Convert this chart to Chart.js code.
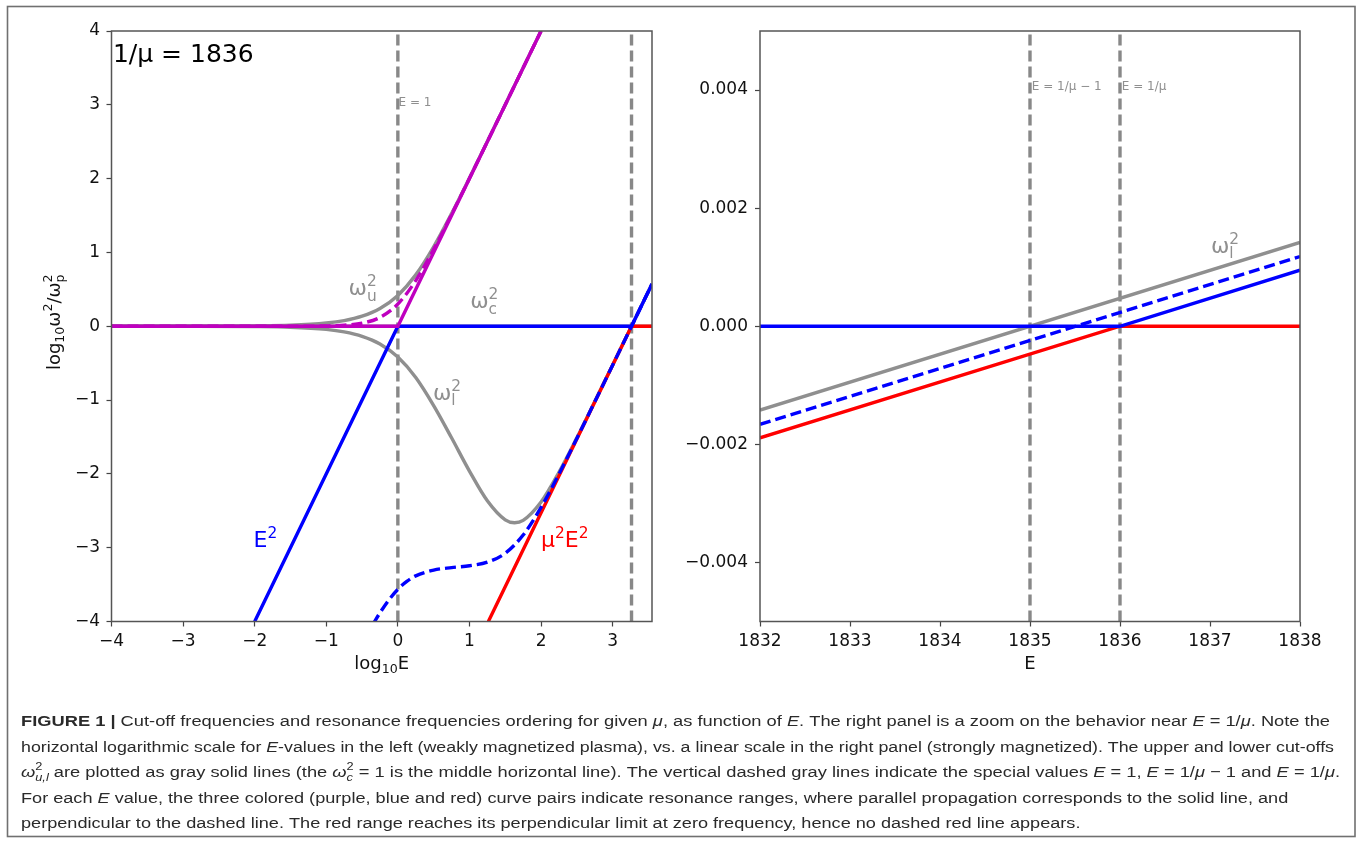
<!DOCTYPE html>
<html>
<head>
<meta charset="utf-8">
<script src="https://cdn.jsdelivr.net/npm/chart.js@4.4.1/dist/chart.umd.min.js"></script>
<style>
  html, body { margin: 0; padding: 0; background: #fff; }
  #page { position: relative; width: 1357px; height: 843px; overflow: hidden; }
  canvas { position: absolute; top: 0; }
  #bg { left: 0; }
  #left { left: 0; }
  #right { left: 680px; }
</style>
</head>
<body>
<div id="page">
  <canvas id="bg" width="1357" height="843" style="width:1357px;height:843px"></canvas>
  <canvas id="left" width="700" height="700" style="width:700px;height:700px"></canvas>
  <canvas id="right" width="677" height="700" style="width:677px;height:700px"></canvas>
</div>
<script>
const inverseMu = 1836;

// ---- left panel, x = log10 E, y = log10 w^2/wp^2 ----
const leftXTicks = [-4, -3, -2, -1, 0, 1, 2, 3];
const leftYTicks = [-4, -3, -2, -1, 0, 1, 2, 3, 4];
const specialLogE = [0, 3.264];          // E = 1 and E = 1/mu

// straight pieces (parallel resonances, middle cut-off)
const purpleSolidX = [-4, 0, 2];
const purpleSolidY = [0, 0, 4];
const blueSolidX = [-2, 0, 3.264, 3.55];
const blueSolidY = [-4, 0, 0, 0.572];
const redSolidX = [1.264, 3.264, 3.55];
const redSolidY = [-4, 0, 0];
const cutoffCX = [-4, 3.55];
const cutoffCY = [0, 0];

// upper cut-off w_u^2 (gray)
const upperCutX = [-4, -3, -2, -1.5, -1, -0.75, -0.5, -0.25, 0, 0.25, 0.5, 0.75, 1, 1.5, 2];
const upperCutY = [0.0003, 0.0007, 0.005, 0.014, 0.044, 0.077, 0.137, 0.241, 0.418, 0.696, 1.076, 1.526, 2.009, 3.001, 4.0];

// lower cut-off w_l^2 (gray)
const lowerCutX = [-4, -3, -2, -1.5, -1, -0.75, -0.5, -0.25, 0, 0.25, 0.5, 0.75, 1, 1.25, 1.5, 1.63, 1.75, 2, 2.25, 2.5, 2.75, 3, 3.264, 3.55];
const lowerCutY = [0.0002, -0.0002, -0.004, -0.013, -0.043, -0.077, -0.137, -0.241, -0.418, -0.695, -1.075, -1.511, -1.962, -2.365, -2.623, -2.662, -2.630, -2.381, -1.979, -1.512, -1.020, -0.526, 0.0005, 0.572];

// perpendicular (dashed) resonances
const purpleDashX = [-4, -3, -2, -1.5, -1, -0.75, -0.5, -0.25, 0, 0.25, 0.5, 0.75, 1, 1.5, 2];
const purpleDashY = [0.0002, 0.0002, 0.0003, 0.0007, 0.0046, 0.0138, 0.0416, 0.1195, 0.301, 0.619, 1.041, 1.514, 2.004, 3.0, 4.0];
const blueDashX = [-0.35, -0.25, -0.125, 0, 0.125, 0.25, 0.5, 0.75, 1, 1.25, 1.5, 1.75, 2, 2.25, 2.5, 2.75, 3, 3.264, 3.55];
const blueDashY = [-4.04, -3.883, -3.707, -3.564, -3.457, -3.382, -3.303, -3.270, -3.245, -3.196, -3.075, -2.829, -2.455, -2.003, -1.520, -1.025, -0.527, 0.0002, 0.572];

// ---- right panel, x = E (linear), zoom near E = 1/mu ----
const rightXTicks = [1832, 1833, 1834, 1835, 1836, 1837, 1838];
const rightYTicks = [-0.004, -0.002, 0, 0.002, 0.004];
const specialE = [1835, 1836];           // E = 1/mu - 1 and E = 1/mu
const zoomGrayX = [1832, 1838];
const zoomGrayY = [-0.00142, 0.00142];
const zoomBlueDashX = [1832, 1838];
const zoomBlueDashY = [-0.00166, 0.00118];
const zoomRedX = [1832, 1836, 1838];
const zoomRedY = [-0.00189, 0, 0];
const zoomBlueX = [1832, 1836, 1838];
const zoomBlueY = [0, 0, 0.00095];

const GRAY = '#8f8f8f', BLUE = '#0000ff', RED = '#ff0000', PURPLE = '#bf00bf';
const PLOT_FAMILY = "'DejaVu Sans', sans-serif";
const CAP_FAMILY = "'Liberation Sans Narrow', 'Liberation Sans', Arial, sans-serif";
const DASH = [11, 5];

Chart.defaults.font.family = PLOT_FAMILY;

function pts(xs, ys) { return xs.map((x, i) => ({ x: x, y: ys[i] })); }

function line(xs, ys, color, order, extra) {
  return Object.assign({
    data: pts(xs, ys), borderColor: color, borderWidth: 3.4,
    pointRadius: 0, fill: false, tension: 0, clip: 0, order: order
  }, extra || {});
}
const curve = { cubicInterpolationMode: 'monotone' };
const dashed = { borderDash: DASH };

function fontStr(size, it, bd, family) {
  return (it ? 'italic ' : '') + (bd ? 'bold ' : '') + size + 'px ' + family;
}

// draws text pieces with sub/superscripts from (0,0); returns width
function drawParts(ctx, parts, size, family, draw) {
  let x = 0;
  for (const p of parts) {
    ctx.font = fontStr(size, p.i, p.b, family);
    if (draw) ctx.fillText(p.t, x, 0);
    x += ctx.measureText(p.t).width;
    if (p.sup || p.sub) {
      const s = size * 0.7;
      let w = 0;
      if (p.sup) {
        ctx.font = fontStr(s, false, false, family);
        if (draw) ctx.fillText(p.sup, x, -size * 0.42);
        w = Math.max(w, ctx.measureText(p.sup).width);
      }
      if (p.sub) {
        ctx.font = fontStr(s, p.subI, false, family);
        if (draw) ctx.fillText(p.sub, x, size * 0.24);
        w = Math.max(w, ctx.measureText(p.sub).width);
      }
      x += w;
    }
  }
  return x;
}

function decor(notes, xTitle, yTitle) {
  return {
    id: 'decor',
    afterDatasetsDraw(chart) {
      const ctx = chart.ctx, ca = chart.chartArea;
      const sx = chart.scales.x, sy = chart.scales.y;
      ctx.save();
      ctx.strokeStyle = '#555';
      ctx.lineWidth = 1.5;
      ctx.strokeRect(ca.left, ca.top, ca.right - ca.left, ca.bottom - ca.top);
      ctx.textBaseline = 'alphabetic';
      ctx.textAlign = 'left';
      for (const n of notes) {
        ctx.fillStyle = n.color;
        ctx.save();
        ctx.translate(sx.getPixelForValue(n.x), sy.getPixelForValue(n.y));
        drawParts(ctx, n.parts, n.size, PLOT_FAMILY, true);
        ctx.restore();
      }
      ctx.fillStyle = '#111';
      if (xTitle) {
        const w = drawParts(ctx, xTitle, 18, PLOT_FAMILY, false);
        ctx.save();
        ctx.translate((ca.left + ca.right) / 2 - w / 2, ca.bottom + 47.5);
        drawParts(ctx, xTitle, 18, PLOT_FAMILY, true);
        ctx.restore();
      }
      if (yTitle) {
        const w = drawParts(ctx, yTitle, 18, PLOT_FAMILY, false);
        ctx.save();
        ctx.translate(ca.left - 51.5, (ca.top + ca.bottom) / 2 - 4);
        ctx.rotate(-Math.PI / 2);
        ctx.translate(-w / 2, 0);
        drawParts(ctx, yTitle, 18, PLOT_FAMILY, true);
        ctx.restore();
      }
      ctx.restore();
    }
  };
}

function axis(min, max, ticks, fmt, fitKey, fitVal, pad) {
  return {
    type: 'linear', min: min, max: max,
    afterBuildTicks: s => { s.ticks = ticks.map(v => ({ value: v })); },
    afterFit: s => { s[fitKey] = fitVal; },
    ticks: { callback: fmt, color: '#111', font: { size: 17 }, padding: pad, autoSkip: false, maxRotation: 0 },
    grid: { drawOnChartArea: false, drawTicks: true, tickLength: 5, tickColor: '#444', tickWidth: 1.2 },
    border: { display: false }
  };
}

const minus = v => String(v).replace('-', '\u2212');
const fixed3 = v => minus(Number(v).toFixed(3));

const leftNotes = [
  { parts: [{ t: '1/μ = ' + inverseMu }], x: -3.98, y: 3.58, size: 25, color: '#000' },
  { parts: [{ t: 'E = 1' }], x: 0.01, y: 2.99, size: 12, color: GRAY },
  { parts: [{ t: 'ω', sup: '2', sub: 'u' }], x: -0.69, y: 0.42, size: 22, color: GRAY },
  { parts: [{ t: 'ω', sup: '2', sub: 'c' }], x: 1.01, y: 0.244, size: 22, color: GRAY },
  { parts: [{ t: 'ω', sup: '2', sub: 'l' }], x: 0.49, y: -1.0, size: 22, color: GRAY },
  { parts: [{ t: 'E', sup: '2' }], x: -2.015, y: -2.99, size: 22, color: BLUE },
  { parts: [{ t: 'μ', sup: '2' }, { t: 'E', sup: '2' }], x: 2.0, y: -2.99, size: 22, color: RED }
];

const rightNotes = [
  { parts: [{ t: 'E = 1/μ − 1' }], x: 1835.02, y: 0.0040, size: 12, color: GRAY },
  { parts: [{ t: 'E = 1/μ' }], x: 1836.02, y: 0.0040, size: 12, color: GRAY },
  { parts: [{ t: 'ω', sup: '2', sub: 'l' }], x: 1837.01, y: 0.00124, size: 22, color: GRAY }
];

const baseOpts = {
  responsive: false, animation: false, devicePixelRatio: 1, events: [],
  plugins: { legend: { display: false }, tooltip: { enabled: false } }
};

new Chart(document.getElementById('left'), {
  type: 'line',
  data: {
    datasets: [
      line([specialLogE[0], specialLogE[0]], [-4, 4], '#888', 9, dashed),
      line([specialLogE[1], specialLogE[1]], [-4, 4], '#888', 9, dashed),
      line(cutoffCX, cutoffCY, GRAY, 8),
      line(upperCutX, upperCutY, GRAY, 7, curve),
      line(lowerCutX, lowerCutY, GRAY, 7, curve),
      line(purpleDashX, purpleDashY, PURPLE, 6, Object.assign({}, curve, dashed)),
      line(redSolidX, redSolidY, RED, 5),
      line(blueSolidX, blueSolidY, BLUE, 4),
      line(blueDashX, blueDashY, BLUE, 3, Object.assign({}, curve, dashed)),
      line(purpleSolidX, purpleSolidY, PURPLE, 2)
    ]
  },
  options: Object.assign({}, baseOpts, {
    layout: { padding: { left: 0, top: 31, right: 48, bottom: 0 } },
    scales: {
      x: axis(-4, 3.55, leftXTicks, minus, 'height', 78.5, 5),
      y: axis(-4, 4, leftYTicks, minus, 'width', 111.5, 6.5)
    }
  }),
  plugins: [decor(leftNotes,
    [{ t: 'log', sub: '10' }, { t: 'E' }],
    [{ t: 'log', sub: '10' }, { t: 'ω', sup: '2' }, { t: '/' }, { t: 'ω', sup: '2', sub: 'p' }])]
});

new Chart(document.getElementById('right'), {
  type: 'line',
  data: {
    datasets: [
      line([specialE[0], specialE[0]], [-0.005, 0.005], '#888', 9, dashed),
      line([specialE[1], specialE[1]], [-0.005, 0.005], '#888', 9, dashed),
      line(zoomGrayX, zoomGrayY, GRAY, 7),
      line(zoomRedX, zoomRedY, RED, 5),
      line(zoomBlueX, zoomBlueY, BLUE, 4),
      line(zoomBlueDashX, zoomBlueDashY, BLUE, 3, dashed)
    ]
  },
  options: Object.assign({}, baseOpts, {
    layout: { padding: { left: 0, top: 31, right: 57, bottom: 0 } },
    scales: {
      x: axis(1832, 1838, rightXTicks, v => String(v), 'height', 78.5, 5),
      y: axis(-0.005, 0.005, rightYTicks, fixed3, 'width', 80, 7)
    }
  }),
  plugins: [decor(rightNotes, [{ t: 'E' }], null)]
});

// ---- frame and caption ----
const captionLines = [
  [{ t: 'FIGURE 1 |', b: true }, { t: ' Cut-off frequencies and resonance frequencies ordering for given ' }, { t: 'μ', i: true },
   { t: ', as function of ' }, { t: 'E', i: true }, { t: '. The right panel is a zoom on the behavior near ' },
   { t: 'E', i: true }, { t: ' = 1/' }, { t: 'μ', i: true }, { t: '. Note the' }],
  [{ t: 'horizontal logarithmic scale for ' }, { t: 'E', i: true },
   { t: '-values in the left (weakly magnetized plasma), vs. a linear scale in the right panel (strongly magnetized). The upper and lower cut-offs' }],
  [{ t: 'ω', i: true, sup: '2', sub: 'u,l', subI: true }, { t: ' are plotted as gray solid lines (the ' },
   { t: 'ω', i: true, sup: '2', sub: 'c', subI: true },
   { t: ' = 1 is the middle horizontal line). The vertical dashed gray lines indicate the special values ' },
   { t: 'E', i: true }, { t: ' = 1, ' }, { t: 'E', i: true }, { t: ' = 1/' }, { t: 'μ', i: true }, { t: ' − 1 and ' },
   { t: 'E', i: true }, { t: ' = 1/' }, { t: 'μ', i: true }, { t: '.' }],
  [{ t: 'For each ' }, { t: 'E', i: true },
   { t: ' value, the three colored (purple, blue and red) curve pairs indicate resonance ranges, where parallel propagation corresponds to the solid line, and' }],
  [{ t: 'perpendicular to the dashed line. The red range reaches its perpendicular limit at zero frequency, hence no dashed red line appears.' }]
];
const captionFullEnds = [1330, 1334, 1340];   // right edge of the three full-width lines

(function drawBackground() {
  const ctx = document.getElementById('bg').getContext('2d');
  ctx.fillStyle = '#fff';
  ctx.fillRect(0, 0, 1357, 843);
  ctx.strokeStyle = '#707070';
  ctx.lineWidth = 1.6;
  ctx.strokeRect(7.5, 6.5, 1347.5, 830);
  ctx.fillStyle = '#2a2a2a';
  ctx.textBaseline = 'alphabetic';
  // full lines are fitted to their width, the short ones use the mean squeeze
  const fits = captionFullEnds.map((end, k) => (end - 21) / drawParts(ctx, captionLines[k], 15.5, CAP_FAMILY, false));
  const meanFit = fits.reduce((a, b) => a + b, 0) / fits.length;
  captionLines.forEach((parts, k) => {
    ctx.save();
    ctx.translate(21, 726 + k * 25.5);
    ctx.scale(k < fits.length ? fits[k] : meanFit, 1);
    drawParts(ctx, parts, 15.5, CAP_FAMILY, true);
    ctx.restore();
  });
})();
</script>
</body>
</html>
